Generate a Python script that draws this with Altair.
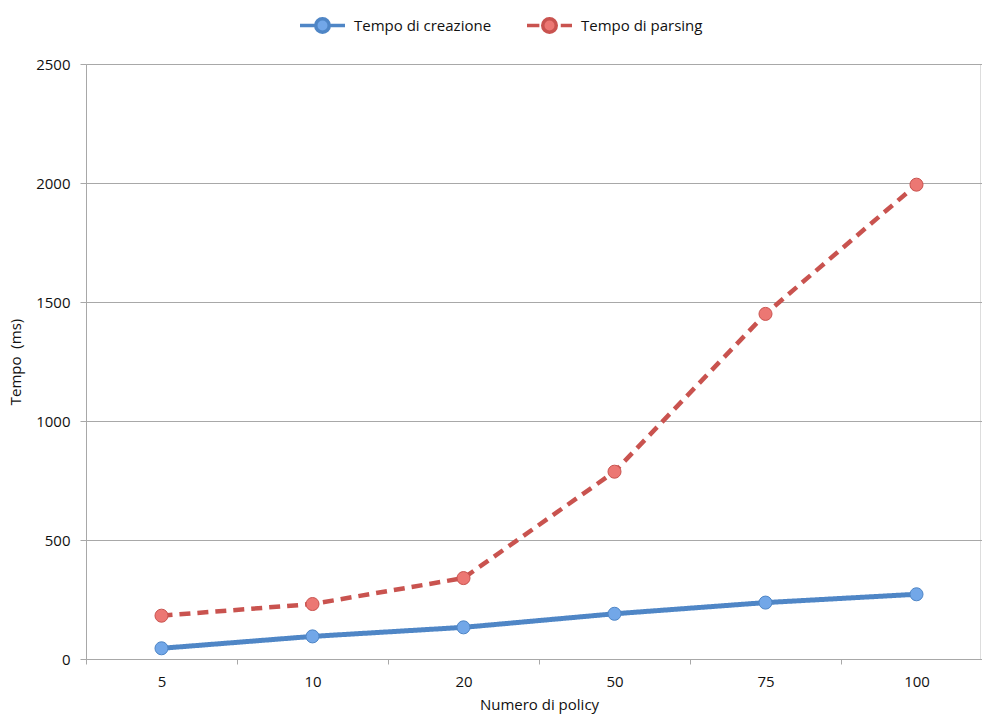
import altair as alt
import pandas as pd

categories = ["5", "10", "20", "50", "75", "100"]
series_names = ["Tempo di creazione", "Tempo di parsing"]
creazione = [45, 95, 133, 190, 237, 272]
parsing = [182, 231, 340, 787, 1450, 1993]

rows = []
for c, v in zip(categories, creazione):
    rows.append({"n": c, "serie": series_names[0], "tempo": v})
for c, v in zip(categories, parsing):
    rows.append({"n": c, "serie": series_names[1], "tempo": v})
df = pd.DataFrame(rows)

FONT = "Open Sans"
FS = 15
LINE_COLORS = ["#4f86c6", "#c9534f"]
FILL_COLORS = ["#72a7e8", "#ec7773"]

x_enc = alt.X(
    "n:N",
    sort=categories,
    bandPosition=0.5,
    scale=alt.Scale(type="band", paddingInner=0, paddingOuter=0, range=[0, 906]),
    axis=alt.Axis(
        title="Numero di policy",
        labelAngle=0,
        tickBand="extent",
        grid=False,
        domainColor="#a8a8a8",
        tickColor="#a8a8a8",
        tickSize=5,
        labelPadding=10,
        labelFontSize=FS,
        labelColor="#111111",
        titleFontSize=FS,
        titleFontWeight="normal",
        titleColor="#111111",
        titlePadding=8,
    ),
)
y_enc = alt.Y(
    "tempo:Q",
    scale=alt.Scale(domain=[0, 2500], nice=False),
    axis=alt.Axis(
        title="Tempo\u00a0 (ms)",
        values=[0, 500, 1000, 1500, 2000, 2500],
        format="d",
        grid=True,
        gridColor="#a8a8a8",
        domainColor="#a8a8a8",
        tickColor="#a8a8a8",
        tickSize=6,
        labelPadding=10,
        labelFontSize=FS,
        labelColor="#111111",
        titleFontSize=FS,
        titleFontWeight="normal",
        titleColor="#111111",
        titlePadding=12,
    ),
)

SHAPES = [
    "M-1,0L-0.3,0M0.3,0L1,0M-0.3,0A0.3,0.3,0,1,1,0.3,0A0.3,0.3,0,1,1,-0.3,0Z",
    "M-1,0L-0.45,0M0.5,0L1,0M-0.3,0A0.3,0.3,0,1,1,0.3,0A0.3,0.3,0,1,1,-0.3,0Z",
]
LEGEND_X = [212, 439]
DASHES = [[1, 0], [11, 7]]
WIDTHS = [5, 4.5]

layers = []
for i, name in enumerate(series_names):
    base = alt.Chart(df).transform_filter(alt.datum.serie == name)
    line = base.mark_line(strokeWidth=WIDTHS[i], strokeDash=DASHES[i]).encode(
        x=x_enc,
        y=y_enc,
        color=alt.Color(
            "serie:N",
            scale=alt.Scale(domain=[name], range=[LINE_COLORS[i]]),
            legend=alt.Legend(
                title=None,
                orient="none",
                direction="horizontal",
                legendX=LEGEND_X[i],
                legendY=-63,
                padding=0,
                symbolType=SHAPES[i],
                symbolSize=2025,
                symbolStrokeWidth=3.5,
                symbolFillColor=FILL_COLORS[i],
                symbolStrokeColor=LINE_COLORS[i],
                labelFontSize=FS,
                labelColor="#111111",
                labelOffset=7,
                labelLimit=300,
            ),
        ),
    )
    pts = base.mark_point(
        filled=True,
        size=170,
        opacity=1,
        strokeWidth=1,
        fill=FILL_COLORS[i],
        stroke=LINE_COLORS[i],
    ).encode(x=x_enc, y=y_enc)
    layers += [line, pts]

chart = (
    alt.layer(*layers)
    .resolve_scale(color="independent")
    .properties(
        width=894,
        height=595,
        autosize=alt.AutoSizeParams(type="none"),
        padding={"left": 86, "top": 64, "right": 2, "bottom": 59},
        background="white",
    )
    .configure_view(stroke=None)
    .configure(font=FONT)
)

chart.save("out.html", embed_options={"renderer": "svg", "actions": False})
